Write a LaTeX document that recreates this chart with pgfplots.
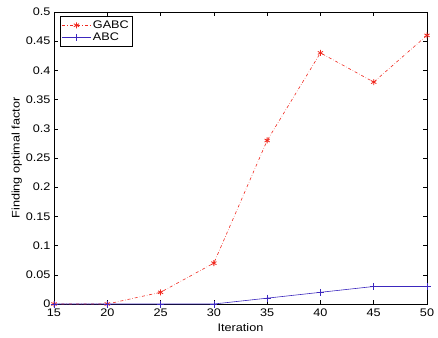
\documentclass[border=0pt]{standalone}
\usepackage{pgfplots}
\pgfplotsset{compat=1.18}
\usepackage{fontspec}
\setmainfont[FakeStretch=1.15]{Liberation Sans}
\definecolor{mred}{RGB}{240,40,30}
\definecolor{mblue}{RGB}{60,40,190}
\begin{document}
\begin{tikzpicture}
\begin{axis}[
  name=ax,
  scale only axis,
  width=373pt, height=292pt,
  xmin=15, xmax=50, ymin=0, ymax=0.5,
  xtick={15,20,...,50},
  ytick={0,0.05,...,0.5},
  tick align=inside,
  major tick length=4pt,
  axis line style={black, line width=0.8pt},
  tick style={black, line width=0.5pt},
  /pgf/number format/assume math mode=true,
  yticklabel style={/pgf/number format/fixed, /pgf/number format/precision=2, xshift=0pt},
  xticklabel style={yshift=-1pt},
  ticklabel style={font=\fontsize{11}{12}\selectfont},
  label style={font=\fontsize{11}{12}\selectfont},
  xlabel={Iteration},
  ylabel={Finding optimal factor},
  xlabel style={yshift=0pt},
  ylabel style={yshift=-3pt},
  legend style={at={(0.015,0.985)}, anchor=north west, font=\fontsize{11}{12}\selectfont, draw=black, line width=0.6pt, inner sep=2pt, row sep=-1pt},
  legend cell align=left,
  legend image code/.code={\draw[#1] (0cm,0cm) -- (1.0cm,0cm); \draw[#1, solid] plot coordinates {(0.5cm,0cm)};},
]
\addplot[color=mred, dashdotted, line width=0.6pt, mark=asterisk, mark size=3pt, mark options={solid, line width=0.8pt}]
coordinates {(15,0) (20,0) (25,0.02) (30,0.07) (35,0.28) (40,0.43) (45,0.38) (50,0.46)};
\addlegendentry{GABC}
\addplot[color=mblue, solid, line width=0.6pt, mark=+, mark size=3.5pt]
coordinates {(15,0) (20,0) (25,0) (30,0) (35,0.01) (40,0.02) (45,0.03) (50,0.03)};
\addlegendentry{ABC}
\end{axis}
\path ([xshift=-54pt,yshift=-33pt]ax.south west) rectangle ([xshift=11pt,yshift=12pt]ax.north east);
\end{tikzpicture}
\end{document}
